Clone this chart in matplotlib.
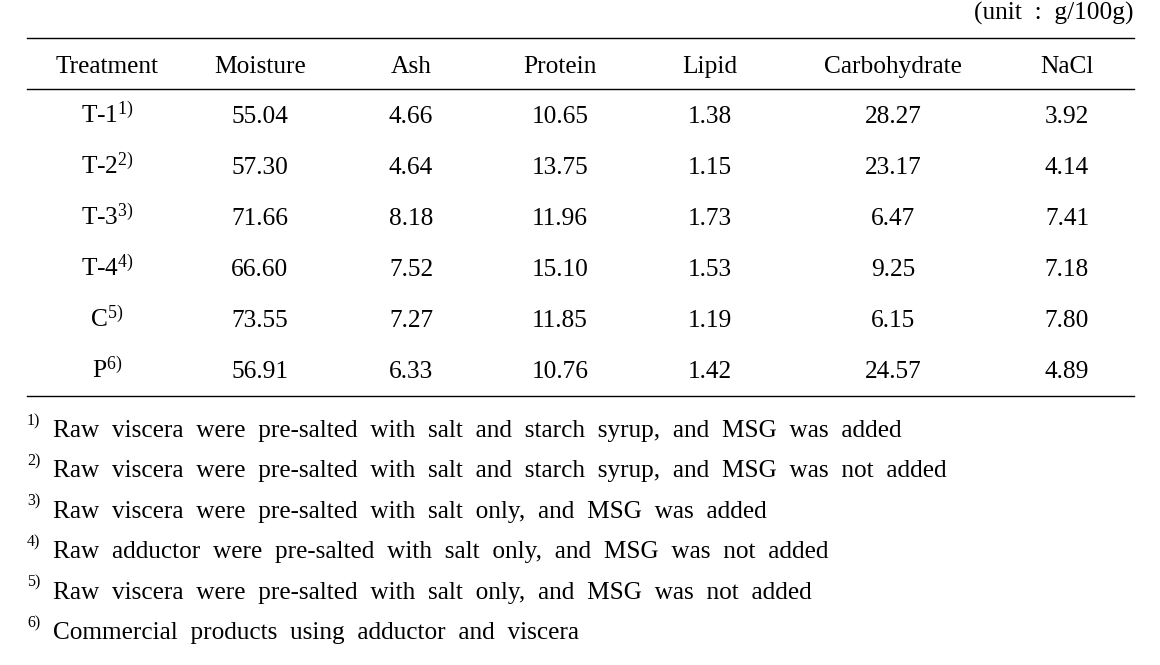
import matplotlib
matplotlib.use("Agg")
import matplotlib.pyplot as plt

plt.rcParams['font.family'] = ['Liberation Serif', 'DejaVu Serif']
plt.rcParams['mathtext.fontset'] = 'custom'
plt.rcParams['mathtext.rm'] = 'Liberation Serif'
plt.rcParams['mathtext.it'] = 'Liberation Serif:italic'

# table data
columns = ['Treatment', 'Moisture', 'Ash', 'Protein', 'Lipid', 'Carbohydrate', 'NaCl']
treatments = ['T-1', 'T-2', 'T-3', 'T-4', 'C', 'P']
marks = ['1)', '2)', '3)', '4)', '5)', '6)']
moisture = [55.04, 57.30, 71.66, 66.60, 73.55, 56.91]
ash = [4.66, 4.64, 8.18, 7.52, 7.27, 6.33]
protein = [10.65, 13.75, 11.96, 15.10, 11.85, 10.76]
lipid = [1.38, 1.15, 1.73, 1.53, 1.19, 1.42]
carbohydrate = [28.27, 23.17, 6.47, 9.25, 6.15, 24.57]
nacl = [3.92, 4.14, 7.41, 7.18, 7.80, 4.89]
notes = [
    'Raw viscera were pre-salted with salt and starch syrup, and MSG was added',
    'Raw viscera were pre-salted with salt and starch syrup, and MSG was not added',
    'Raw viscera were pre-salted with salt only, and MSG was added',
    'Raw adductor were pre-salted with salt only, and MSG was not added',
    'Raw viscera were pre-salted with salt only, and MSG was not added',
    'Commercial products using adductor and viscera',
]
unit = '(unit  :  g/100g)'

W, H = 1160, 665
fig = plt.figure(figsize=(W / 100, H / 100), dpi=100)
ax = fig.add_axes([0, 0, 1, 1])
ax.set_xlim(0, W)
ax.set_ylim(H, 0)
ax.axis('off')

fs = 18.3
col_x = [107, 260, 411, 560, 710, 893, 1067]
x0, x1 = 27, 1134

ax.text(1133, 20, unit, ha='right', va='baseline', fontsize=fs)
for y in (38, 89, 396):
    ax.plot([x0, x1], [y, y], color='black', lw=1.0)

for cx, name in zip(col_x, columns):
    ax.text(cx, 73, name, ha='center', va='baseline', fontsize=fs)

values = [moisture, ash, protein, lipid, carbohydrate, nacl]
for i, t in enumerate(treatments):
    y = 123 + i * 51.1
    ax.text(col_x[0], y, t + r'$^{\mathrm{' + marks[i] + '}}$',
            ha='center', va='baseline', fontsize=fs)
    for cx, vals in zip(col_x[1:], values):
        ax.text(cx, y, '%.2f' % vals[i], ha='center', va='baseline', fontsize=fs)

for i, (m, n) in enumerate(zip(marks, notes)):
    y = 437 + i * 40.4
    ax.text(27, y - 12, m, ha='left', va='baseline', fontsize=11.5)
    ax.text(53, y, '  '.join(n.split(' ')), ha='left', va='baseline', fontsize=18.2)

fig.savefig('out.png', dpi=100)
